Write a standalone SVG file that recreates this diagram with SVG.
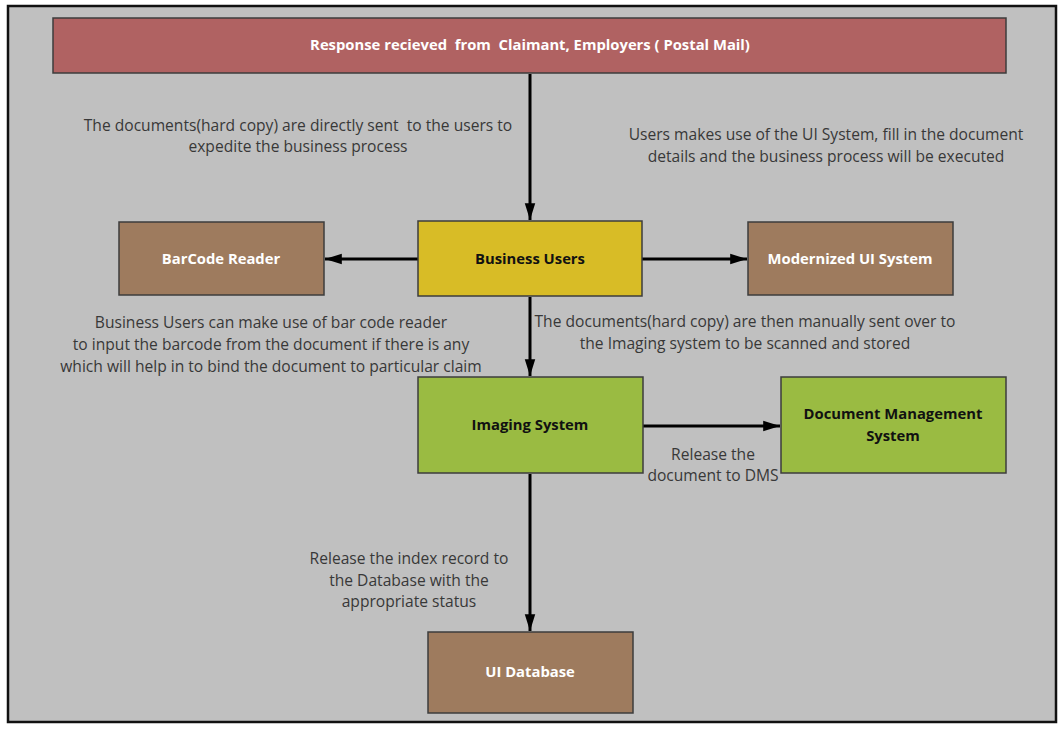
<svg xmlns="http://www.w3.org/2000/svg" width="1061" height="729" viewBox="0 0 1061 729">
<style>
.node{stroke:#3c3c3c;stroke-width:1.5}
.lbl{font-family:"Open Sans","Liberation Sans",sans-serif;font-weight:bold;font-size:14.8px;text-anchor:middle;white-space:pre}
.w{fill:#ffffff}
.k{fill:#111111}
.note{font-family:"Open Sans","Liberation Sans",sans-serif;font-size:15.6px;fill:#383838;text-anchor:middle;white-space:pre}
.edge{stroke:#000;stroke-width:3;fill:none;marker-end:url(#ah)}
</style>
<defs>
<marker id="ah" viewBox="0 0 16 10" refX="16" refY="5" markerWidth="5.6" markerHeight="3.8" orient="auto" markerUnits="strokeWidth">
<path d="M0,0 L16,5 L0,10 z" fill="#000"/>
</marker>
</defs>
<rect x="0" y="0" width="1061" height="729" fill="#ffffff"/>
<rect x="8" y="6" width="1048" height="716" fill="#c0c0c0" stroke="#111" stroke-width="2.5"/>
<g id="banner">
<rect class="node" x="53" y="18" width="953" height="55" fill="#b06262"/>
<text class="lbl w" x="530" y="50">Response recieved  from  Claimant, Employers ( Postal Mail)</text>
</g>
<g id="connectors">
<line class="edge" x1="530" y1="74" x2="530" y2="220"/>
<line class="edge" x1="418" y1="259" x2="325" y2="259"/>
<line class="edge" x1="642" y1="259" x2="747" y2="259"/>
<line class="edge" x1="530" y1="297" x2="530" y2="376"/>
<line class="edge" x1="643" y1="426" x2="780" y2="426"/>
<line class="edge" x1="530" y1="474" x2="530" y2="631"/>
</g>
<g id="business-users">
<rect class="node" x="418" y="221" width="224" height="75" fill="#d8bc26"/>
<text class="lbl k" x="530" y="264">Business Users</text>
</g>
<g id="barcode-reader">
<rect class="node" x="119" y="222" width="205" height="73" fill="#9e7b5e"/>
<text class="lbl w" x="221" y="264">BarCode Reader</text>
</g>
<g id="modernized-ui">
<rect class="node" x="748" y="222" width="205" height="73" fill="#9e7b5e"/>
<text class="lbl w" x="850" y="264">Modernized UI System</text>
</g>
<g id="imaging-system">
<rect class="node" x="418" y="377" width="225" height="96" fill="#9abb42"/>
<text class="lbl k" x="530" y="430">Imaging System</text>
</g>
<g id="dms">
<rect class="node" x="781" y="377" width="225" height="96" fill="#9abb42"/>
<text class="lbl k" x="893" y="419">Document Management</text>
<text class="lbl k" x="893" y="441">System</text>
</g>
<g id="ui-database">
<rect class="node" x="428" y="632" width="205" height="81" fill="#9e7b5e"/>
<text class="lbl w" x="530" y="677">UI Database</text>
</g>
<g id="notes">
<text class="note" x="298" y="131">The documents(hard copy) are directly sent  to the users to</text>
<text class="note" x="298" y="152">expedite the business process</text>
<text class="note" x="826" y="140">Users makes use of the UI System, fill in the document</text>
<text class="note" x="826" y="162">details and the business process will be executed</text>
<text class="note" x="271" y="328">Business Users can make use of bar code reader</text>
<text class="note" x="271" y="350">to input the barcode from the document if there is any</text>
<text class="note" x="271" y="372">which will help in to bind the document to particular claim</text>
<text class="note" x="745" y="327">The documents(hard copy) are then manually sent over to</text>
<text class="note" x="745" y="349">the Imaging system to be scanned and stored</text>
<text class="note" x="713" y="460">Release the</text>
<text class="note" x="713" y="481">document to DMS</text>
<text class="note" x="409" y="564">Release the index record to</text>
<text class="note" x="409" y="586">the Database with the</text>
<text class="note" x="409" y="607">appropriate status</text>
</g>
</svg>
